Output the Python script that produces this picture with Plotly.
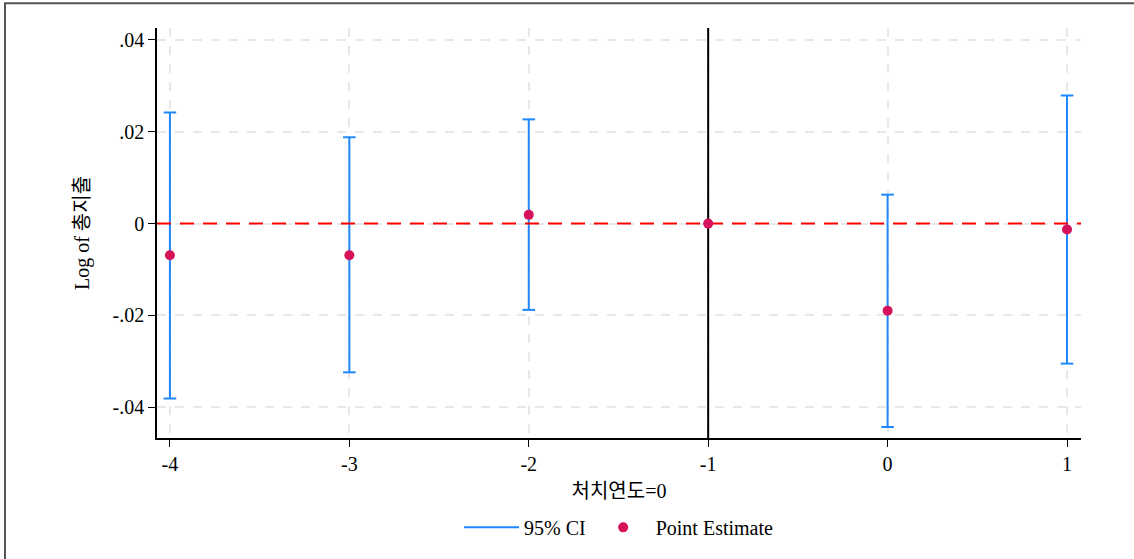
import plotly.graph_objects as go

# Data
periods = [-4, -3, -2, -1, 0, 1]
estimates = [-0.0069, -0.0069, 0.0019, 0.0, -0.019, -0.0013]
ci_low = [-0.0381, -0.0324, -0.0188, None, -0.0443, -0.0305]
ci_high = [0.0242, 0.0188, 0.0227, None, 0.0063, 0.0279]

x_ticks = [-4, -3, -2, -1, 0, 1]
x_tick_labels = ["-4", "-3", "-2", "-1", "0", "1"]
y_ticks = [-0.04, -0.02, 0, 0.02, 0.04]
y_tick_labels = ["-.04", "-.02", "0", ".02", ".04"]

X_RANGE = [-4.072, 1.078]
Y_RANGE = [-0.0467, 0.0426]
REF_PERIOD = -1

BLUE = "#1E88FF"
RED_PT = "#D6135A"
FONT = "Liberation Serif, Noto Sans CJK KR, serif"
FS = 20

# Build CI segments from the arrays
seg_x, seg_y, cap_x, cap_y = [], [], [], []
for p, lo, hi in zip(periods, ci_low, ci_high):
    if lo is None or hi is None:
        continue
    seg_x += [p, p, None]
    seg_y += [lo, hi, None]
    cap_x += [p, p]
    cap_y += [lo, hi]

fig = go.Figure()

# reference vertical line (as a trace so it sits above gridlines, below points)
fig.add_trace(go.Scatter(
    x=[REF_PERIOD, REF_PERIOD], y=Y_RANGE, mode="lines", showlegend=False,
    hoverinfo="skip", line=dict(color="black", width=2),
))
fig.add_trace(go.Scatter(
    x=seg_x, y=seg_y, mode="lines", name="95% CI",
    line=dict(color=BLUE, width=2), showlegend=True,
))
fig.add_trace(go.Scatter(
    x=cap_x, y=cap_y, mode="markers", showlegend=False, hoverinfo="skip",
    marker=dict(symbol="line-ew-open", size=9, color=BLUE, line=dict(color=BLUE, width=2)),
))
# zero line
fig.add_trace(go.Scatter(
    x=X_RANGE, y=[0, 0], mode="lines", showlegend=False, hoverinfo="skip",
    line=dict(color="#FF0000", width=2, dash="14px,9px"),
))
fig.add_trace(go.Scatter(
    x=periods, y=estimates, mode="markers", name="Point Estimate",
    marker=dict(color=RED_PT, size=10),
))

# outer frame
L, R, T, B = 157, 53, 28, 118
PW, PH = 1134 - L - R, 559 - T - B
def px(xp):
    return (xp - L) / PW
def py(yp):
    return 1 - (yp - T) / PH
fig.add_shape(type="line", xref="paper", yref="paper",
              x0=px(4), x1=px(1140), y0=py(3), y1=py(3),
              line=dict(color="#555555", width=2))
fig.add_shape(type="line", xref="paper", yref="paper",
              x0=px(5), x1=px(5), y0=py(3), y1=py(565),
              line=dict(color="#555555", width=2))

fig.update_layout(
    width=1134, height=559,
    margin=dict(l=L, r=R, t=T, b=B),
    paper_bgcolor="white", plot_bgcolor="white",
    font=dict(family=FONT, size=FS, color="black"),
    showlegend=True,
    legend=dict(orientation="h", x=0.5, xanchor="center", y=py(531), yanchor="middle",
                font=dict(size=FS), itemwidth=55, bgcolor="rgba(0,0,0,0)"),
    xaxis=dict(
        range=X_RANGE, tickvals=x_ticks, ticktext=x_tick_labels,
        showline=True, linecolor="black", linewidth=1.5,
        ticks="outside", ticklen=7, tickcolor="black",
        showgrid=True, gridcolor="#E8E8E8", griddash="dash", gridwidth=1.5,
        zeroline=False, tickfont=dict(size=FS),
        title=dict(text="처치연도=0", font=dict(size=FS), standoff=10),
    ),
    yaxis=dict(
        range=Y_RANGE, tickvals=y_ticks, ticktext=y_tick_labels,
        showline=True, linecolor="black", linewidth=1.5,
        ticks="outside", ticklen=7, tickcolor="black",
        showgrid=True, gridcolor="#E8E8E8", griddash="dash", gridwidth=1.5,
        zeroline=False, tickfont=dict(size=FS),
        title=dict(text="Log of 총지출", font=dict(size=FS), standoff=18),
    ),
)

fig.write_html("out.html")
